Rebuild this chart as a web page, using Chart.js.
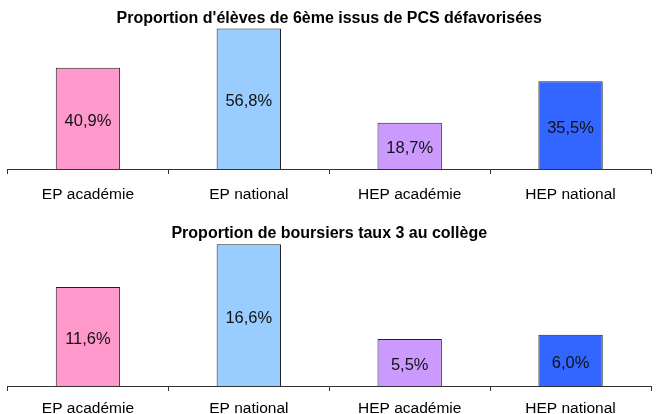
<!DOCTYPE html>
<html>
<head>
<meta charset="utf-8">
<script src="https://cdn.jsdelivr.net/npm/chart.js@4"></script>
<style>
  html, body { margin: 0; padding: 0; background: #fff; overflow: hidden; }
  body { width: 656px; height: 414px; position: relative; }
  .box { position: absolute; left: 0; width: 656px; }
  #box1 { top: 0; height: 207px; }
  #box2 { top: 207px; height: 214px; }
</style>
</head>
<body>
<div class="box" id="box1"><canvas id="chart1"></canvas></div>
<div class="box" id="box2"><canvas id="chart2"></canvas></div>
<script>
// data
const categories = ['EP académie', 'EP national', 'HEP académie', 'HEP national'];
const pcsValues = [40.9, 56.8, 18.7, 35.5];
const boursiersValues = [11.6, 16.6, 5.5, 6.0];
const pcsTitle = "Proportion d'élèves de 6ème issus de PCS défavorisées";
const boursiersTitle = 'Proportion de boursiers taux 3 au collège';

const barColors = ['#FF99CC', '#99CCFF', '#CC99FF', '#3366FF'];
const FONT = "'Liberation Sans', Arial, sans-serif";

// french formatting, e.g. 40,9%
function fmt(v) { return v.toFixed(1).replace('.', ',') + '%'; }

// value label centred in each bar
const centreLabels = {
  id: 'centreLabels',
  afterDatasetsDraw(chart) {
    const ctx = chart.ctx;
    ctx.save();
    ctx.font = '16.5px ' + FONT;
    ctx.fillStyle = '#111';
    ctx.textAlign = 'center';
    ctx.textBaseline = 'middle';
    chart.getDatasetMeta(0).data.forEach((bar, i) => {
      const v = chart.data.datasets[0].data[i];
      ctx.fillText(fmt(v), bar.x, (bar.y + bar.base) / 2 + 3);
    });
    ctx.restore();
  }
};

function makeChart(id, title, values, yMax, titlePad, tickPad, bottomPad) {
  return new Chart(document.getElementById(id), {
    type: 'bar',
    data: {
      labels: categories,
      datasets: [{
        data: values,
        backgroundColor: barColors,
        borderColor: '#222',
        borderWidth: 1,
        categoryPercentage: 1,
        barPercentage: 0.4
      }]
    },
    options: {
      responsive: true,
      maintainAspectRatio: false,
      animation: false,
      layout: { padding: { left: 7.5, right: 5, top: 0, bottom: bottomPad } },
      plugins: {
        legend: { display: false },
        tooltip: { enabled: false },
        title: {
          display: true,
          text: title,
          color: '#000',
          font: { family: FONT, size: 16, weight: 'bold', lineHeight: 1.2 },
          padding: titlePad
        }
      },
      scales: {
        x: {
          grid: { display: true, offset: true, drawOnChartArea: false, drawTicks: true, tickLength: 5, color: '#333' },
          border: { display: true, color: '#333', width: 1 },
          ticks: { color: '#000', padding: tickPad, font: { family: FONT, size: 15.5 } }
        },
        y: { display: false, min: 0, max: yMax }
      }
    },
    plugins: [centreLabels]
  });
}

makeChart('chart1', pcsTitle, pcsValues, 60, { top: 9.4, bottom: -8 }, 11.75, -9.1);
makeChart('chart2', boursiersTitle, boursiersValues, 18, { top: 16.7, bottom: -10.5 }, 8.5, -5.6);
</script>
</body>
</html>
